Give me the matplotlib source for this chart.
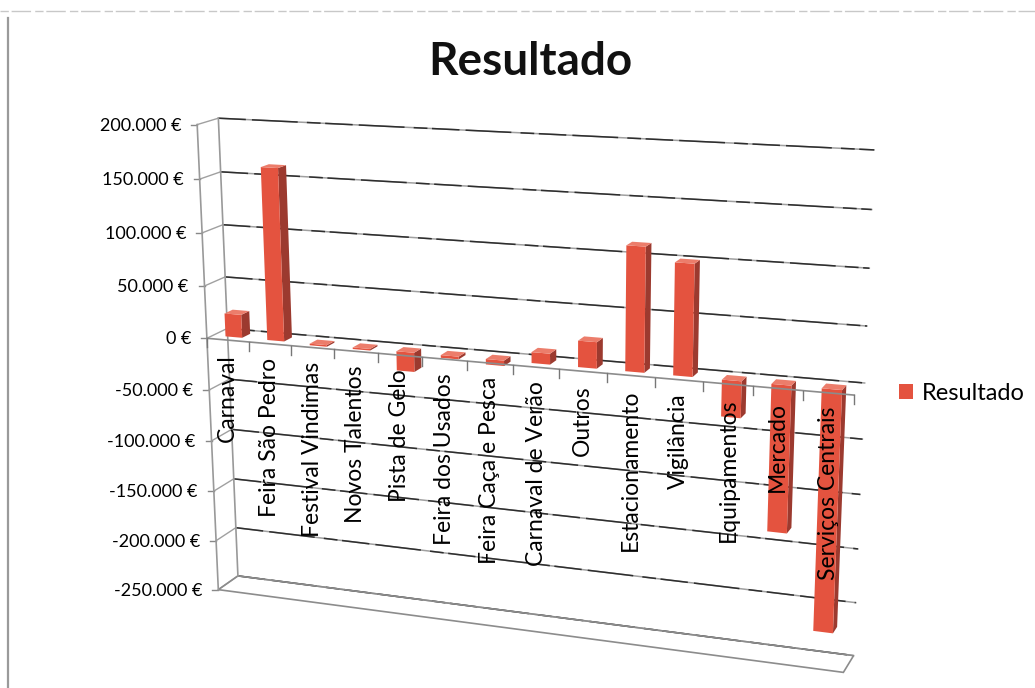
import numpy as np
import matplotlib.pyplot as plt
from matplotlib.patches import Polygon, Patch

plt.rcParams['font.family'] = ['Lato', 'DejaVu Sans']

categorias = ['Carnaval', 'Feira São Pedro', 'Festival Vindimas', 'Novos Talentos',
              'Pista de Gelo', 'Feira dos Usados', 'Feira Caça e Pesca', 'Carnaval de Verão',
              'Outros', 'Estacionamento', 'Vigilância', 'Equipamentos', 'Mercado',
              'Serviços Centrais']
resultado = [22000, 162000, -1500, -1500, -18000, -2500, -5000, 10000,
             24000, 112000, 100000, -33000, -133000, -220000]
eixo_valores = [200000, 150000, 100000, 50000, 0, -50000, -100000, -150000, -200000, -250000]
titulo = 'Resultado'

v_max, v_min = eixo_valores[0], eixo_valores[-1]
n_cat = len(categorias)

# 3D box (u along categories, v = value / 200000, w = depth, 0 front / 1 back)
# anchored on the canvas, then a 3x4 perspective camera is solved from it
box_world = [(0, 1, 0), (0, 1, 1), (0, 0, 0), (0, 0, 1), (0, -1.25, 0), (0, -1.25, 1),
             (1, 1, 1), (1, 0, 1), (1, -1.25, 1), (1, 0, 0), (1, -1.25, 0)]
box_canvas = [(199, 124), (218, 118), (207, 338), (225, 330), (217, 590), (240, 575),
              (875, 150), (865, 383), (853, 655), (852, 395), (845, 673)]


def solve_camera(world, canvas):
    rows = []
    for (X, Y, Z), (x, y) in zip(world, canvas):
        p = [X, Y, Z, 1.0]
        x, y = x / 1000.0, y / 1000.0
        rows.append(p + [0.0] * 4 + [-x * c for c in p])
        rows.append([0.0] * 4 + p + [-y * c for c in p])
    _, _, vt = np.linalg.svd(np.array(rows))
    return vt[-1].reshape(3, 4)


CAM = solve_camera(box_world, box_canvas)


def proj(u, v, w):
    h = CAM @ np.array([u, v / 200000.0, w, 1.0])
    return 1000.0 * h[0] / h[2], 1000.0 * h[1] / h[2]


fig = plt.figure(figsize=(10.35, 6.88), dpi=100)
ax = fig.add_axes([0, 0, 1, 1])
ax.set_xlim(0, 1035)
ax.set_ylim(688, 0)
ax.axis('off')

grid_light = '#a0a0a0'
grid_dark = '#2e2e2e'

# back wall + side wall gridlines
for v in eixo_valores:
    b0, b1 = proj(0, v, 1), proj(1, v, 1)
    f0 = proj(0, v, 0)
    ax.plot([b0[0], b1[0]], [b0[1], b1[1]], color=grid_light, lw=1.1, zorder=1)
    ax.plot([b0[0], b1[0]], [b0[1], b1[1]], color=grid_dark, lw=1.1, zorder=1,
            linestyle=(0, (18, 4, 30, 6, 9, 3)))
    ax.plot([f0[0], b0[0]], [f0[1], b0[1]], color=grid_light, lw=1.0, zorder=1)
    # value axis tick
    ax.plot([f0[0] - 6, f0[0]], [f0[1], f0[1]], color='#888888', lw=1.0, zorder=2)
    rotulo = f'{v:,.0f}'.replace(',', '.') + ' €'
    ax.text(f0[0] - 16, f0[1] + 1, rotulo, ha='right', va='center', fontsize=13,
            color='#000000', zorder=5)

# back wall left edge, value axis, floor outline
for (a, b) in [((0, v_min, 1), (0, v_max, 1)), ((0, v_min, 0), (0, v_max, 0))]:
    p, q = proj(*a), proj(*b)
    ax.plot([p[0], q[0]], [p[1], q[1]], color='#999999', lw=1.2, zorder=2)
floor = [proj(0, v_min, 0), proj(1, v_min, 0), proj(1, v_min, 1), proj(0, v_min, 1)]
ax.add_patch(Polygon(floor, closed=True, fill=False, edgecolor='#8c8c8c', lw=1.2, zorder=1))

# columns
c_front, c_side, c_top = '#e4533f', '#9c3a2f', '#ec7d6b'
for i, val in enumerate(resultado):
    u0, u1 = (i + 0.3) / n_cat, (i + 0.7) / n_cat
    w0, w1 = 0.3, 0.7
    lo, hi = min(0, val), max(0, val)
    front = [proj(u0, lo, w0), proj(u1, lo, w0), proj(u1, hi, w0), proj(u0, hi, w0)]
    side = [proj(u1, lo, w0), proj(u1, lo, w1), proj(u1, hi, w1), proj(u1, hi, w0)]
    top = [proj(u0, hi, w0), proj(u1, hi, w0), proj(u1, hi, w1), proj(u0, hi, w1)]
    ax.add_patch(Polygon(side, closed=True, facecolor=c_side, edgecolor='none', zorder=3))
    ax.add_patch(Polygon(front, closed=True, facecolor=c_front, edgecolor='none', zorder=3))
    ax.add_patch(Polygon(top, closed=True, facecolor=c_top, edgecolor='none', zorder=3))

# category axis at 0 with ticks
a0, a1 = proj(0, 0, 0), proj(1, 0, 0)
ax.plot([a0[0], a1[0]], [a0[1], a1[1]], color='#8c8c8c', lw=1.2, zorder=4)
for k in range(n_cat + 1):
    t = proj(k / n_cat, 0, 0)
    ax.plot([t[0], t[0]], [t[1], t[1] + 9], color='#777777', lw=1.0, zorder=4)

for i, nome in enumerate(categorias):
    p = proj((i + 0.5) / n_cat, 0, 0)
    ax.text(p[0], p[1] + 14, nome, rotation=90, ha='center', va='top', fontsize=16.5,
            color='#000000', zorder=6)

ax.text(530, 62, titulo, ha='center', va='center', fontsize=33, fontweight='bold',
        color='#111111')

ax.legend(handles=[Patch(facecolor=c_front, edgecolor='none', label='Resultado')],
          loc='center left', bbox_to_anchor=(878 / 1035, 1 - 393 / 688), frameon=False,
          fontsize=17, handlelength=0.6, handleheight=0.6, handletextpad=0.35)

# page edges of the scanned sheet
ax.plot([0, 1035], [11, 11], color='#c8c8c8', lw=1.0, linestyle=(0, (6, 2, 14, 3)))
ax.plot([8, 8], [18, 688], color='#9a9a9a', lw=1.6)

fig.savefig('out.png', dpi=100)
